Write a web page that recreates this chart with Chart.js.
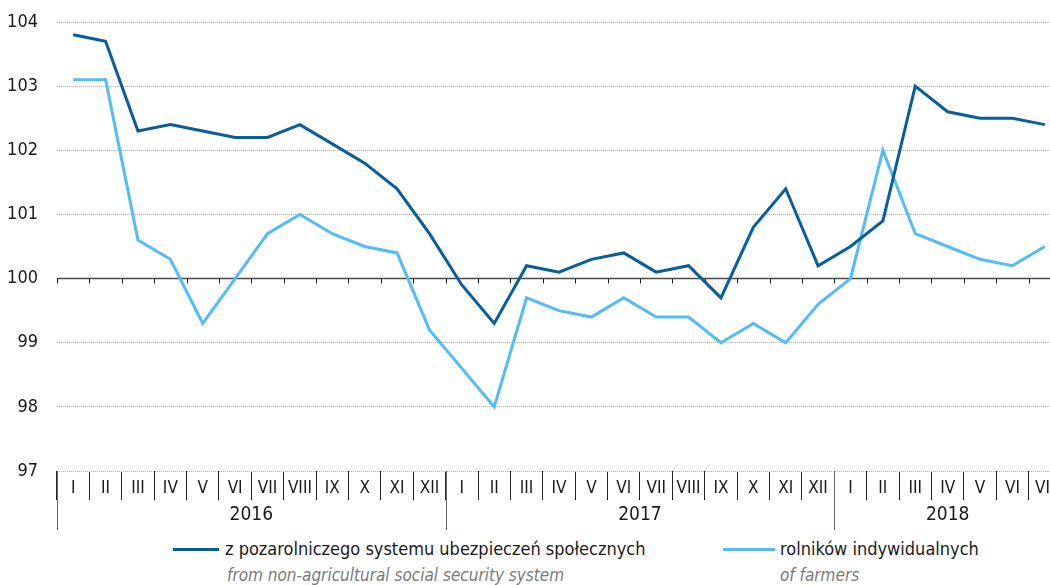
<!DOCTYPE html>
<html>
<head>
<meta charset="utf-8">
<script src="https://cdn.jsdelivr.net/npm/chart.js@4/dist/chart.umd.min.js"></script>
<style>
  html, body { margin: 0; padding: 0; background: #fff; overflow: hidden; width: 1050px; height: 585px; }
  #wrap { position: absolute; left: 0; top: 0; width: 1061px; height: 530px; }
  .lg { position: absolute; font-family: "Liberation Sans Narrow", "DejaVu Sans Condensed", sans-serif; font-size: 18px; line-height: 22px; white-space: nowrap; }
  .main { color: #1a1a1a; }
  .sub { color: #7a7a7a; font-style: italic; font-size: 17px; }
  .swatch { position: absolute; height: 3px; }
</style>
</head>
<body>
<div id="wrap"><canvas id="chart" width="1061" height="530"></canvas></div>

<div class="swatch" style="left:173px; top:548px; width:46px; background:#075e9b;"></div>
<div class="lg main" style="left:225px; top:538px;">z pozarolniczego systemu ubezpieczeń społecznych</div>
<div class="lg sub" style="left:227px; top:564px;">from non-agricultural social security system</div>

<div class="swatch" style="left:723px; top:548px; width:52px; background:#54bbf6;"></div>
<div class="lg main" style="left:780px; top:538px;">rolników indywidualnych</div>
<div class="lg sub" style="left:780px; top:564px;">of farmers</div>

<script>
const FONT = '"Liberation Sans Narrow", "DejaVu Sans Condensed", sans-serif';

const months = ["I", "II", "III", "IV", "V", "VI", "VII", "VIII", "IX", "X", "XI", "XII"];
const years = ["2016", "2017", "2018"];
const monthsPerYear = [12, 12, 7];

const labels = [];
years.forEach((yr, i) => {
  months.slice(0, monthsPerYear[i]).forEach((m) => labels.push(m));
});

const nonAgricultural = [
  103.8, 103.7, 102.3, 102.4, 102.3, 102.2, 102.2, 102.4, 102.1, 101.8, 101.4, 100.7,
  99.9, 99.3, 100.2, 100.1, 100.3, 100.4, 100.1, 100.2, 99.7, 100.8, 101.4, 100.2,
  100.5, 100.9, 103.0, 102.6, 102.5, 102.5, 102.4,
];
const farmers = [
  103.1, 103.1, 100.6, 100.3, 99.3, 100.0, 100.7, 101.0, 100.7, 100.5, 100.4, 99.2,
  98.6, 98.0, 99.7, 99.5, 99.4, 99.7, 99.4, 99.4, 99.0, 99.3, 99.0, 99.6,
  100.0, 102.0, 100.7, 100.5, 100.3, 100.2, 100.5,
];

const yMin = 97;
const yMax = 104;
const baseline = 100;

// axis line at 100 with small ticks, year row under the month strip
const stripPlugin = {
  id: "strip",
  beforeDatasetsDraw(chart) {
    const { ctx, scales: { x, y }, chartArea } = chart;
    const y100 = y.getPixelForValue(baseline);
    const half = (x.getPixelForValue(1) - x.getPixelForValue(0)) / 2;
    ctx.save();
    ctx.strokeStyle = "#4a4a4a";
    ctx.lineWidth = 1.5;
    ctx.beginPath();
    ctx.moveTo(chartArea.left, y100);
    ctx.lineTo(chartArea.right, y100);
    ctx.stroke();
    ctx.lineWidth = 1;
    ctx.strokeStyle = "#222";
    for (let i = 0; i <= labels.length; i++) {
      const bx = Math.round(x.getPixelForValue(i) - half) + 0.5;
      ctx.beginPath();
      ctx.moveTo(bx, y100);
      ctx.lineTo(bx, y100 + 5);
      ctx.stroke();
    }
    ctx.restore();
  },
  afterDraw(chart) {
    const { ctx, scales: { x }, chartArea } = chart;
    const half = (x.getPixelForValue(1) - x.getPixelForValue(0)) / 2;
    ctx.save();
    ctx.strokeStyle = "#666";
    ctx.lineWidth = 1;
    ctx.fillStyle = "#1a1a1a";
    ctx.font = "19px " + FONT;
    ctx.textAlign = "center";
    ctx.textBaseline = "middle";
    let start = 0;
    years.forEach((yr, i) => {
      const left = x.getPixelForValue(start) - half;
      const right = x.getPixelForValue(start + monthsPerYear[i] - 1) + half;
      const bx = Math.round(left) + 0.5;
      ctx.beginPath();
      ctx.moveTo(bx, chartArea.bottom);
      ctx.lineTo(bx, chart.height);
      ctx.stroke();
      ctx.fillText(yr, (left + right) / 2, 515);
      start += monthsPerYear[i];
    });
    ctx.restore();
  },
};

new Chart(document.getElementById("chart"), {
  type: "line",
  data: {
    labels: labels,
    datasets: [
      {
        label: "z pozarolniczego systemu ubezpieczeń społecznych",
        data: nonAgricultural,
        borderColor: "#075e9b",
        borderWidth: 3,
        pointRadius: 0,
        tension: 0,
        fill: false,
      },
      {
        label: "rolników indywidualnych",
        data: farmers,
        borderColor: "#54bbf6",
        borderWidth: 3,
        pointRadius: 0,
        tension: 0,
        fill: false,
      },
    ],
  },
  options: {
    responsive: false,
    animation: false,
    layout: { padding: { top: 22, left: 0, right: 0, bottom: 0 } },
    plugins: {
      legend: { display: false },
      tooltip: { enabled: false },
    },
    scales: {
      x: {
        type: "category",
        offset: true,
        grid: {
          offset: true,
          drawOnChartArea: false,
          drawTicks: true,
          tickLength: 29,
          color: "#222",
          tickColor: "#222",
        },
        border: { display: false },
        ticks: {
          autoSkip: false,
          maxRotation: 0,
          padding: -22,
          color: "#1a1a1a",
          font: { family: FONT, size: 17 },
        },
        afterFit(scale) {
          scale.height = 59;
        },
      },
      y: {
        min: yMin,
        max: yMax,
        ticks: {
          stepSize: 1,
          padding: 0,
          color: "#1a1a1a",
          font: { family: FONT, size: 18 },
        },
        grid: {
          drawTicks: true,
          tickLength: 19,
          tickColor: "rgba(0,0,0,0)",
          color: "#b5b5b5",
          lineWidth: 1,
        },
        border: { display: false, dash: [1, 1] },
        afterFit(scale) {
          scale.width = 57;
        },
      },
    },
  },
  plugins: [stripPlugin],
});
</script>
</body>
</html>
